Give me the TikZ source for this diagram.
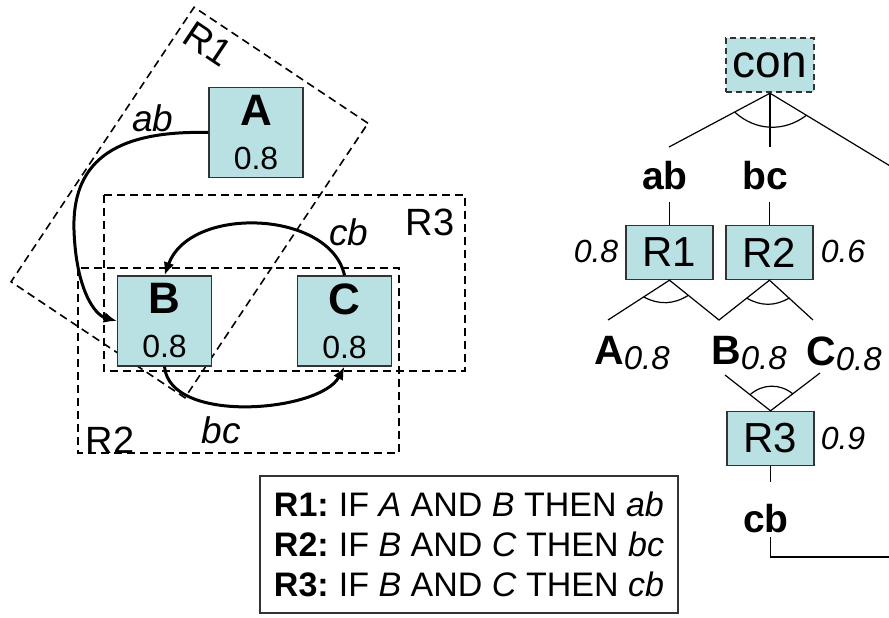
\documentclass[tikz,border=0pt]{standalone}
\usepackage{fontspec}
\setmainfont{Liberation Sans}
\usetikzlibrary{arrows.meta,calc}
\definecolor{cellfill}{RGB}{185,224,227}
\newcommand{\fsz}[1]{\fontsize{#1}{#1}\selectfont}

\begin{document}
\begin{tikzpicture}[x=0.5pt,y=-0.5pt,
    state/.style={draw=black!80,line width=0.7pt,fill=cellfill,minimum width=47pt,minimum height=45pt,
      inner sep=0pt,align=center,font=\fontsize{16}{22}\selectfont},
    rulebox/.style={draw=black!80,line width=0.7pt,fill=cellfill,minimum width=43.5pt,minimum height=27pt,
      inner sep=0pt,font=\fsz{21}},
    region/.style={draw,line width=0.8pt,dash pattern=on 4pt off 2.5pt},
    flow/.style={line width=1.5pt,-{Latex[length=6.5pt,width=5.5pt]}},
    tree/.style={line width=0.6pt}]
  \useasboundingbox (0,0) rectangle (889,617);
  \clip (0,0) rectangle (889,617);

  % left: regions and the graph
  \node[region,minimum width=104.5pt,minimum height=165pt,inner sep=0pt,rotate=-33.7] (r1) at (189.5,202.5) {};
  \draw[region] (104,195) rectangle (465,371);
  \draw[region] (78,268) rectangle (399,453);
  \node[rotate=-33.7,font=\fsz{19}] (r1-label) at (208,44) {R1};
  \node[font=\fsz{19}] (r3-label) at (430,222) {R3};
  \node[font=\fsz{19}] (r2-label) at (110,440) {R2};

  \foreach \n/\x/\y in {A/256/132.5,B/164.5/321,C/344.5/321}
    \node[state] (\n) at (\x,\y) {{\fsz{22}\bfseries \n}\\0.8};

  \draw[flow] (A.west) .. controls (110,130) and (72,165) .. (74,230)
    .. controls (76,290) and (95,315) .. (B.west);
  \draw[flow] (C.north) .. controls (330,210) and (190,205) .. (B.north);
  \draw[flow] (B.south) .. controls (170,425) and (320,412) .. (C.south);
  \node[font=\fsz{18.5}\itshape] (ab-label) at (153,118) {ab};
  \node[font=\fsz{18.5}\itshape] (cb-label) at (349,232) {cb};
  \node[font=\fsz{18.5}\itshape] (bc-label) at (221,430) {bc};

  % rules
  \node[draw=black!80,line width=0.7pt,minimum width=209pt,minimum height=68.5pt,align=left,
    font=\fontsize{17}{20}\selectfont] (rules) at (469,544.5)
    {\textbf{R1:}\hspace{0.3em}IF \textit{A} AND \textit{B} THEN \textit{ab}\\
     \textbf{R2:}\hspace{0.3em}IF \textit{B} AND \textit{C} THEN \textit{bc}\\
     \textbf{R3:}\hspace{0.3em}IF \textit{B} AND \textit{C} THEN \textit{cb}};

  % right: and-or tree
  \node[rulebox,line width=1.2pt,dash pattern=on 3pt off 2pt,minimum width=44pt,font=\fsz{23}] (con) at (770,65) {con};
  \foreach \n/\x/\y in {R1/669.5/252.5,R2/769.5/252.5,R3/770.5/438.5}
    \node[rulebox] (\n) at (\x,\y) {\n};

  \node[font=\fsz{19.5}\bfseries] (ab) at (665,176) {ab};
  \node[font=\fsz{19.5}\bfseries] (bc) at (765,176) {bc};
  \node[font=\fsz{19.5}\bfseries] (cb) at (766,519) {cb};
  \node[font=\fsz{16}\itshape] (w1) at (596,251) {0.8};
  \node[font=\fsz{16}\itshape] (w2) at (843,251) {0.6};
  \node[font=\fsz{16}\itshape] (w3) at (843,438) {0.9};
  \foreach \n/\x in {A/632,B/749,C/844}
    \node (f\n) at (\x,353.5) {{\fsz{20.5}\bfseries \n}\raisebox{-2.5pt}{\fsz{16.5}\itshape 0.8}};

  \coordinate (c1) at (669,147);
  \coordinate (c2) at (770,147);
  \coordinate (c3) at (905,175);
  \coordinate (c4) at (608,320);
  \coordinate (c5) at (719,320);
  \coordinate (c6) at (813,320);
  \coordinate (c7) at (725,375);
  \coordinate (c8) at (820,373);
  \coordinate (c9) at (770.5,482);
  \coordinate (c10) at (770.5,537);
  \coordinate (c11) at (905,557);

  \draw[tree] (con.south) -- (c1);
  \draw[tree] (con.south) -- (c2);
  \draw[tree] (con.south) -- (c3);
  \draw[tree] ($(con.south)!.35!(c1)$) to[bend right=40] ($(con.south)!.27!(c3)$);
  \draw[tree] (R1.north) -- (R1.north |- 0,202);
  \draw[tree] (R2.north) -- (R2.north |- 0,202);
  \draw[tree] (c4) -- (R1.south) -- (c5) -- (R2.south) -- (c6);
  \draw[tree] ($(R1.south)!.42!(c4)$) to[bend right=30] ($(R1.south)!.38!(c5)$);
  \draw[tree] ($(R2.south)!.45!(c5)$) to[bend right=30] ($(R2.south)!.45!(c6)$);
  \draw[tree] (c7) -- (R3.north) -- (c8);
  \draw[tree] ($(R3.north)!.45!(c7)$) to[bend left=40] ($(R3.north)!.45!(c8)$);
  \draw[tree] (R3.south) -- (c9);
  \draw[tree] (c10) -- (c10 |- c11) -- (c11);
\end{tikzpicture}
\end{document}
